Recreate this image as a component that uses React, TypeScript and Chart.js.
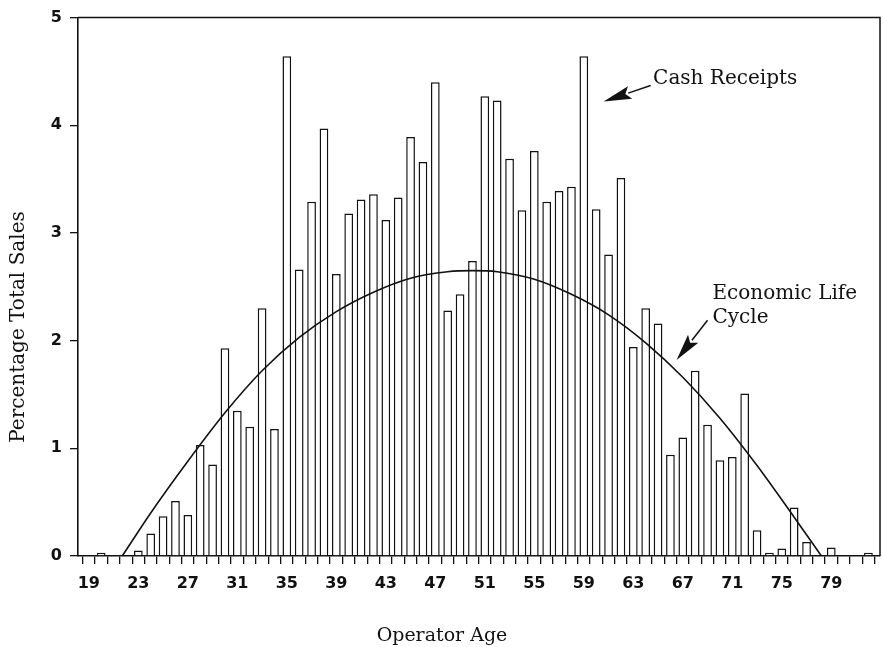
import React, { useEffect, useRef } from 'react';
import { Chart, registerables } from 'chart.js';

Chart.register(...registerables);

// ---- Data ----
const ages = [
  19, 20, 21, 22, 23, 24, 25, 26, 27, 28, 29, 30, 31, 32, 33, 34, 35, 36, 37, 38, 39, 40,
  41, 42, 43, 44, 45, 46, 47, 48, 49, 50, 51, 52, 53, 54, 55, 56, 57, 58, 59, 60, 61, 62,
  63, 64, 65, 66, 67, 68, 69, 70, 71, 72, 73, 74, 75, 76, 77, 78, 79, 80, 81, 82,
];
const cashReceipts = [
  0, 0.03, 0, 0.01, 0.05, 0.21, 0.37, 0.51, 0.38, 1.03, 0.85, 1.93, 1.35, 1.2, 2.3, 1.18,
  4.64, 2.66, 3.29, 3.97, 2.62, 3.18, 3.31, 3.36, 3.12, 3.33, 3.89, 3.66, 4.4, 2.28, 2.43,
  2.74, 4.27, 4.23, 3.69, 3.21, 3.76, 3.29, 3.39, 3.43, 4.64, 3.22, 2.8, 3.51, 1.94, 2.3,
  2.16, 0.94, 1.1, 1.72, 1.22, 0.89, 0.92, 1.51, 0.24, 0.03, 0.07, 0.45, 0.13, 0, 0.08, 0,
  0, 0.03,
];
const lifeCycleAges = [21.7, 24, 27, 30, 33, 36, 39, 42, 45, 48, 50, 52, 55, 58, 61, 64, 67, 70, 73, 76, 78.2];
const lifeCycleValues = [0, 0.4, 0.88, 1.33, 1.72, 2.03, 2.27, 2.45, 2.58, 2.64, 2.65, 2.64, 2.57, 2.43, 2.24, 1.98, 1.66, 1.28, 0.84, 0.36, 0];
const xTickLabels = [19, 23, 27, 31, 35, 39, 43, 47, 51, 55, 59, 63, 67, 71, 75, 79];
const yTickValues = [0, 1, 2, 3, 4, 5];

const xTitle = 'Operator Age';
const yTitle = 'Percentage Total Sales';
const cashLabel = 'Cash Receipts';
const cycleLabel = ['Economic Life', 'Cycle'];

// annotation anchors in data units (age, percent)
const cashTextAt = [64.6, 4.38];
const cashArrowTail = [64.4, 4.37];
const cashArrowTip = [60.6, 4.22];
const cycleTextAt = [69.4, 2.385];
const cycleArrowTail = [69.0, 2.19];
const cycleArrowTip = [66.5, 1.82];

const INK = '#111';
const SERIF = '"DejaVu Serif", serif';

function drawArrow(ctx: CanvasRenderingContext2D, x1: number, y1: number, x2: number, y2: number, headLen: number, headW: number) {
  const dx = x2 - x1;
  const dy = y2 - y1;
  const len = Math.hypot(dx, dy);
  const ux = dx / len;
  const uy = dy / len;
  const bx = x2 - ux * headLen;
  const by = y2 - uy * headLen;
  ctx.beginPath();
  ctx.moveTo(x1, y1);
  ctx.lineTo(bx + ux * 2, by + uy * 2);
  ctx.stroke();
  ctx.beginPath();
  ctx.moveTo(x2, y2);
  ctx.lineTo(bx - uy * headW / 2, by + ux * headW / 2);
  ctx.lineTo(bx + ux * 5, by + uy * 5);
  ctx.lineTo(bx + uy * headW / 2, by - ux * headW / 2);
  ctx.closePath();
  ctx.fill();
}

const overlayPlugin = {
  id: 'overlay',
  afterDraw(chart: any) {
    const { ctx, chartArea } = chart;
    const xs = chart.scales.x;
    const ys = chart.scales.y;
    const px = (v: number) => xs.getPixelForValue(v);
    const py = (v: number) => ys.getPixelForValue(v);
    ctx.save();
    ctx.strokeStyle = INK;
    ctx.fillStyle = INK;
    ctx.lineWidth = 1.5;
    // frame: top and right
    ctx.beginPath();
    ctx.moveTo(chartArea.left, chartArea.top);
    ctx.lineTo(chartArea.right, chartArea.top);
    ctx.lineTo(chartArea.right, chartArea.bottom);
    ctx.stroke();

    ctx.font = `20px ${SERIF}`;
    ctx.textBaseline = 'alphabetic';
    ctx.textAlign = 'left';
    ctx.fillText(cashLabel, px(cashTextAt[0]), py(cashTextAt[1]));
    ctx.fillText(cycleLabel[0], px(cycleTextAt[0]), py(cycleTextAt[1]));
    ctx.fillText(cycleLabel[1], px(cycleTextAt[0]), py(cycleTextAt[1]) + 24);

    ctx.lineWidth = 1.5;
    drawArrow(ctx, px(cashArrowTail[0]), py(cashArrowTail[1]), px(cashArrowTip[0]), py(cashArrowTip[1]), 28, 13);
    drawArrow(ctx, px(cycleArrowTail[0]), py(cycleArrowTail[1]), px(cycleArrowTip[0]), py(cycleArrowTip[1]), 27, 13);

    // axis titles
    ctx.textAlign = 'center';
    ctx.font = `19px ${SERIF}`;
    ctx.fillText(xTitle, 442, 641);
    ctx.font = `20px ${SERIF}`;
    ctx.translate(24, 327);
    ctx.rotate(-Math.PI / 2);
    ctx.fillText(yTitle, 0, 0);
    ctx.restore();
  },
};

export default function App() {
  const ref = useRef<HTMLCanvasElement | null>(null);
  useEffect(() => {
    if (!ref.current) return;
    const tickFont = { family: '"DejaVu Sans", sans-serif', size: 16, weight: 'bold' as const };
    const chart = new Chart(ref.current, {
      type: 'bar',
      data: {
        datasets: [
          {
            type: 'line' as const,
            label: 'Economic Life Cycle',
            data: lifeCycleAges.map((a, i) => ({ x: a, y: lifeCycleValues[i] })),
            borderColor: INK,
            borderWidth: 1.6,
            pointRadius: 0,
            fill: false,
            cubicInterpolationMode: 'monotone' as const,
            order: 0,
          },
          {
            type: 'bar' as const,
            label: 'Cash Receipts',
            data: ages.map((a, i) => ({ x: a, y: cashReceipts[i] })),
            backgroundColor: '#ffffff',
            borderColor: INK,
            borderWidth: 1.5,
            barPercentage: 0.88,
            categoryPercentage: 0.8,
            order: 1,
          },
        ],
      },
      options: {
        responsive: false,
        animation: false,
        layout: { padding: { top: 13, right: 3, left: 0, bottom: 0 } },
        plugins: { legend: { display: false }, tooltip: { enabled: false } },
        scales: {
          x: {
            type: 'linear',
            min: 18.63,
            max: 82.43,
            afterBuildTicks: (scale: any) => {
              scale.ticks = ages.map((v) => ({ value: v }));
            },
            afterFit: (scale: any) => {
              scale.height = 91;
            },
            ticks: {
              autoSkip: false,
              maxRotation: 0,
              padding: 10,
              color: INK,
              font: tickFont,
              callback: (v: any) => (xTickLabels.includes(Number(v)) ? String(v) : ''),
            },
            grid: { drawOnChartArea: false, drawTicks: true, tickLength: 8, color: INK, lineWidth: 1.3 },
            border: { display: true, color: INK, width: 1.6 },
          },
          y: {
            type: 'linear',
            min: 0,
            max: 5,
            afterBuildTicks: (scale: any) => {
              scale.ticks = yTickValues.map((v) => ({ value: v }));
            },
            afterFit: (scale: any) => {
              scale.width = 78;
            },
            ticks: { padding: 8, color: INK, font: tickFont },
            grid: { drawOnChartArea: false, drawTicks: true, tickLength: 8, color: INK, lineWidth: 1.3 },
            border: { display: true, color: INK, width: 1.6 },
          },
        },
      },
      plugins: [overlayPlugin],
    });
    return () => chart.destroy();
  }, []);
  return (
    <div style={{ position: 'absolute', left: 0, top: 0, width: 883, height: 647, background: '#fff' }}>
      <canvas ref={ref} width={883} height={647} />
    </div>
  );
}
